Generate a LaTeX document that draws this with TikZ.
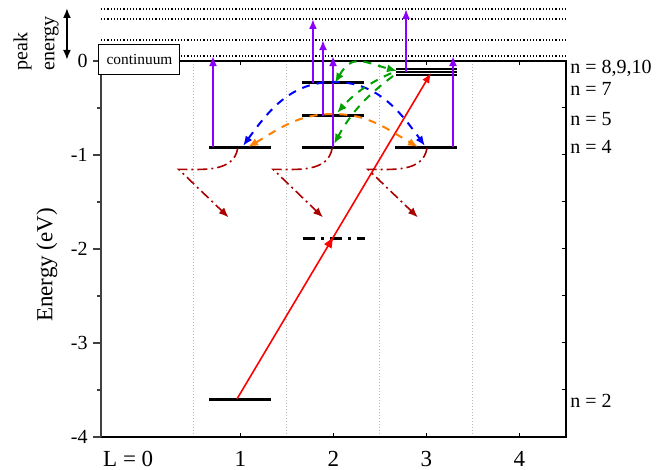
\documentclass[tikz,border=0pt]{standalone}
\usepackage{fontspec}
\setmainfont{Liberation Serif}
\usepackage{tikz}
\usetikzlibrary{arrows.meta, decorations.markings}

\definecolor{excviolet}{RGB}{140,0,255}
\definecolor{arcorange}{RGB}{255,128,0}
\definecolor{arcgreen}{RGB}{0,160,0}
\definecolor{decayred}{RGB}{170,0,0}

\begin{document}
\begin{tikzpicture}[
  x=46.5pt, y=47pt,
  >={Latex[length=5pt, width=4pt]},
  statebar/.style={line width=1.5pt},
  peakline/.style={densely dotted, line width=0.6pt},
  colsep/.style={densely dotted, gray!55, line width=0.5pt},
  excite/.style={excviolet, line width=1pt, ->},
  transit/.style={dash pattern=on 4pt off 3.5pt, line width=1pt},
  decay/.style={decayred, line width=0.8pt, dash pattern=on 5pt off 2pt on 1pt off 2pt, ->},
  midarrow/.style={postaction={decorate}, decoration={markings, mark=at position #1 with {\arrow{Latex[length=6pt, width=4.5pt]}}}},
  ticklbl/.style={font=\fontsize{10}{12}\selectfont},
  axlbl/.style={font=\fontsize{11.5}{14}\selectfont},
  nlbl/.style={font=\fontsize{10}{12}\selectfont, anchor=base west, inner sep=0pt, xshift=2pt}
]
\useasboundingbox (-1.586,-4.351) rectangle (5.597,0.649);

\foreach \l in {0.5,1.5,2.5,3.5} \draw[colsep] (\l,-4) -- (\l,0);
\foreach \e in {0.553,0.447,0.223,0.053} \draw[peakline] (-0.5,\e) -- (4.5,\e);
\draw[line width=0.7pt] (-0.5,-4) rectangle (4.5,0);
\draw[line width=1pt, black!75] (-0.5,-4) -- (-0.5,0);
\foreach \e in {0,-1,-2,-3,-4} {
  \draw[line width=0.7pt, black!75] (-0.5,\e) -- ++(-4pt,0);
  \node[ticklbl, anchor=east, inner sep=0pt] at ([xshift=-6.5pt]-0.5,\e) {\e};
}
\foreach \e in {-0.5,-1.5,-2.5,-3.5} \draw[line width=0.7pt, black!75] (-0.5,\e) -- ++(-2pt,0);
\foreach \e in {-0.5,-1,...,-3.5} \draw[line width=0.5pt] (4.5,\e) -- ++(-2pt,0);
\foreach \l in {1,...,4} {
  \draw[line width=0.5pt] (\l,-4) -- ++(0,2pt);
  \draw[line width=0.5pt] (\l,0) -- ++(0,-2pt);
  \node[axlbl, anchor=base] at (\l,-4.319) {\l};
}
\node[axlbl, anchor=base] (lzero) at (0,-4.319) {\llap{L = }0};
\node[axlbl, rotate=90] (elabel) at (-1.081,-2.17) {Energy (eV)};
\node[rotate=90, align=left, anchor=west, inner sep=0pt, font=\fontsize{10}{13.5}\selectfont] (peak) at (-1.199,-0.106) {peak\\energy};
\coordinate (ptop) at (-0.866,0.564);
\coordinate (pbot) at (-0.866,0.011);
\draw[<->, line width=1pt] (ptop) -- (pbot);

\foreach \l/\e in {1/-0.915, 2/-0.915, 3/-0.915, 2/-0.585, 2/-0.234, 1/-3.596}
  \draw[statebar] (\l-0.335,\e) -- (\l+0.325,\e);
\foreach \e in {-0.080,-0.112,-0.144}
  \draw[line width=1pt] (2.67,\e) -- (3.33,\e);
\draw[statebar, dash pattern=on 6pt off 3pt on 1.5pt off 3pt] (1.672,-1.883) -- (2.339,-1.883);

\node[nlbl] (nten) at (4.5,-0.138) {n = 8,9,10};
\node[nlbl] (nseven) at (4.5,-0.362) {n = 7};
\node[nlbl] (nfive) at (4.5,-0.681) {n = 5};
\node[nlbl] (nfour) at (4.5,-0.979) {n = 4};
\node[nlbl] (ntwo) at (4.5,-3.681) {n = 2};

\foreach \x/\a/\b in {0.704/-0.915/0.053, 1.779/-0.234/0.447, 1.887/-0.585/0.223, 1.995/-0.915/0.053, 2.780/-0.112/0.553, 3.285/-0.915/0.053}
  \draw[excite] (\x,\a) -- (\x,\b);

\coordinate (ltwo) at (0.962,-3.596);
\coordinate (lhigh) at (3.048,-0.128);
\draw[red, line width=0.8pt, ->, midarrow=0.5] (ltwo) -- (lhigh);

\draw[transit, blue, <->] (1.027,-0.904) to[out=54,in=180] (2.005,-0.223) to[out=0,in=126] (2.984,-0.904);
\draw[transit, arcorange, <->] (1.081,-0.915) to[out=30,in=180] (1.995,-0.564) to[out=0,in=150] (2.909,-0.915);
\draw[transit, arcgreen, <->] (2.016,-0.234) to[out=60,in=165, looseness=1.4] (2.683,-0.106);
\draw[transit, arcgreen, ->] (2.62,-0.13) to[bend right=12] (2.038,-0.553);
\draw[transit, arcgreen, ->] (2.64,-0.16) to[bend right=12] (2.005,-0.883);

\foreach \l in {0.97,1.985,3.005}
  \draw[decay] (\l,-0.93) to[out=-100,in=0] ++(-0.634,-0.223) -- ++(0.537,-0.511);

\node[draw, fill=white, line width=0.5pt, minimum width=40.5pt, minimum height=15pt, inner sep=1pt, font=\fontsize{7.7}{9}\selectfont] (cont) at (-0.086,0.021) {continuum};
\end{tikzpicture}
\end{document}
